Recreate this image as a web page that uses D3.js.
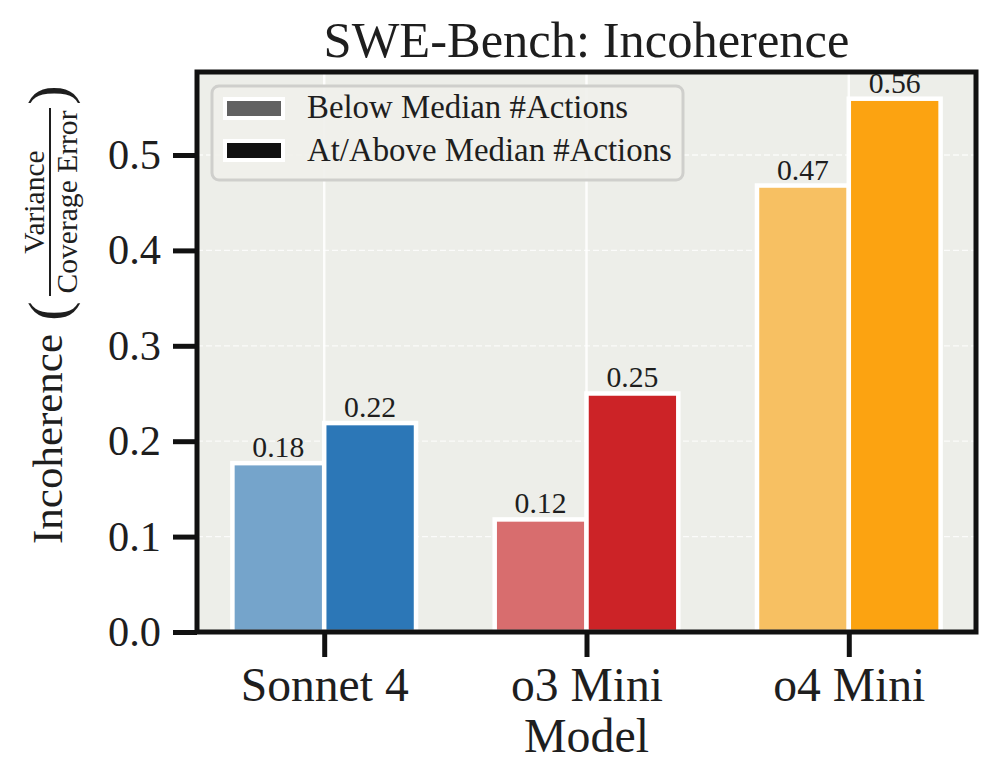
<!DOCTYPE html>
<html>
<head>
<meta charset="utf-8">
<script src="https://cdn.jsdelivr.net/npm/d3@7"></script>
<style>
body { margin: 0; background: #fff; }
text { font-family: "Liberation Serif", serif; fill: #1e1e1e; }
</style>
</head>
<body>
<div class="chart"></div>
<script>
var models = ["Sonnet 4", "o3 Mini", "o4 Mini"];
var below = [0.177, 0.118, 0.468];
var above = [0.219, 0.250, 0.559];
var belowColors = ["#75a4cb", "#d86d6e", "#f7c062"];
var aboveColors = ["#2c77b7", "#cc2327", "#fca311"];
var yTicks = [0.0, 0.1, 0.2, 0.3, 0.4, 0.5];
var legendLabels = ["Below Median #Actions", "At/Above Median #Actions"];
var legendColors = ["#616161", "#111111"];

var svgWidth = 997;
var svgHeight = 784;
var margin = { top: 72, right: 21, bottom: 152, left: 197 };
var width = svgWidth - margin.left - margin.right;
var height = svgHeight - margin.top - margin.bottom;

var svg = d3.select(".chart")
    .append("svg")
    .attr("width", svgWidth)
    .attr("height", svgHeight);

// scale a text's font size so that its width matches the reference
function fit(sel, target) {
    var fs = parseFloat(sel.attr("font-size"));
    var w = sel.node().getComputedTextLength();
    var size = fs * target / w;
    sel.attr("font-size", size);
    return size;
}

var chartGroup = svg.append("g")
    .attr("transform", `translate(${margin.left}, ${margin.top})`);

var barW = 0.35;
var xScale = d3.scaleLinear()
    .domain([-0.485, 2.485])
    .range([0, width]);

var yScale = d3.scaleLinear()
    .domain([0, 0.587])
    .range([height, 0]);

chartGroup.append("rect")
    .attr("width", width)
    .attr("height", height)
    .attr("fill", "#edeee9");

// grid
chartGroup.selectAll(".hgrid")
    .data(yTicks.slice(1))
    .enter()
    .append("line")
    .attr("x1", 0).attr("x2", width)
    .attr("y1", d => yScale(d)).attr("y2", d => yScale(d))
    .attr("stroke", "#ffffff")
    .attr("stroke-opacity", 0.75)
    .attr("stroke-width", 1.3)
    .attr("stroke-dasharray", "6,3");

chartGroup.selectAll(".vgrid")
    .data(models)
    .enter()
    .append("line")
    .attr("x1", (d, i) => xScale(i)).attr("x2", (d, i) => xScale(i))
    .attr("y1", 0).attr("y2", height)
    .attr("stroke", "#ffffff")
    .attr("stroke-opacity", 0.85)
    .attr("stroke-width", 2.5);

// bars
var bars = [];
models.forEach(function(m, i) {
    bars.push({ x0: i - barW, v: below[i], c: belowColors[i] });
    bars.push({ x0: i, v: above[i], c: aboveColors[i] });
});

chartGroup.selectAll(".bar")
    .data(bars)
    .enter()
    .append("rect")
    .attr("x", d => xScale(d.x0))
    .attr("y", d => yScale(d.v))
    .attr("width", xScale(barW) - xScale(0))
    .attr("height", d => height - yScale(d.v))
    .attr("fill", d => d.c)
    .attr("stroke", "#ffffff")
    .attr("stroke-width", 4.5);

var vlabels = chartGroup.selectAll(".vlabel")
    .data(bars)
    .enter()
    .append("text")
    .attr("x", d => xScale(d.x0 + barW / 2))
    .attr("y", d => yScale(d.v) - 6)
    .attr("text-anchor", "middle")
    .attr("font-size", 24)
    .text(d => d.v.toFixed(2));
var vs = fit(d3.select(vlabels.nodes()[0]), 52);
vlabels.attr("font-size", vs);

// axes
var bottomAxis = d3.axisBottom(xScale)
    .tickValues([0, 1, 2])
    .tickFormat(d => models[d])
    .tickSize(25)
    .tickPadding(10);
var leftAxis = d3.axisLeft(yScale)
    .tickValues(yTicks)
    .tickFormat(d3.format(".1f"))
    .tickSize(24)
    .tickPadding(12);

var gx = chartGroup.append("g")
    .attr("transform", `translate(0, ${height})`)
    .call(bottomAxis);
gx.select(".domain").remove();
gx.selectAll("line").attr("stroke", "#111").attr("stroke-width", 5);
var xt = gx.selectAll("text").attr("font-size", 30).attr("fill", "#111")
    .style("font-family", "'Liberation Serif', serif");
var xs = fit(d3.select(xt.nodes()[0]), 168);
xt.attr("font-size", xs);

var gy = chartGroup.append("g").call(leftAxis);
gy.select(".domain").remove();
gy.selectAll("line").attr("stroke", "#111").attr("stroke-width", 5);
var yt = gy.selectAll("text").attr("font-size", 30).attr("fill", "#111")
    .style("font-family", "'Liberation Serif', serif");
var ys = fit(d3.select(yt.nodes()[5]), 53);
yt.attr("font-size", ys);

chartGroup.append("rect")
    .attr("width", width)
    .attr("height", height)
    .attr("fill", "none")
    .attr("stroke", "#111")
    .attr("stroke-width", 5);

// legend
var legend = chartGroup.append("g")
    .attr("transform", "translate(15, 14)");
legend.append("rect")
    .attr("width", 471)
    .attr("height", 94)
    .attr("rx", 7)
    .attr("fill", "#eff0eb")
    .attr("fill-opacity", 0.9)
    .attr("stroke", "#cfcfcc")
    .attr("stroke-width", 3);
var ltexts = [];
legendLabels.forEach(function(lbl, k) {
    legend.append("rect")
        .attr("x", 13).attr("y", 13 + k * 42)
        .attr("width", 58).attr("height", 19)
        .attr("fill", legendColors[k])
        .attr("stroke", "#fff")
        .attr("stroke-width", 4);
    ltexts.push(legend.append("text")
        .attr("x", 95)
        .attr("y", 32 + k * 43)
        .attr("font-size", 24)
        .text(lbl));
});
var ls = fit(ltexts[1], 365);
ltexts[0].attr("font-size", ls);

// title
var title = svg.append("text")
    .attr("x", margin.left + width / 2)
    .attr("y", 57)
    .attr("text-anchor", "middle")
    .attr("font-size", 40)
    .text("SWE-Bench: Incoherence");
fit(title, 526);

// x label
var xl = svg.append("text")
    .attr("x", margin.left + width / 2)
    .attr("y", 752)
    .attr("text-anchor", "middle")
    .attr("font-size", 40)
    .text("Model");
fit(xl, 125);

// y label with fraction
var yl = svg.append("g")
    .attr("transform", "translate(62, 439) rotate(-90)");
var inc = yl.append("text")
    .attr("x", 0).attr("y", 0)
    .attr("text-anchor", "middle")
    .attr("font-size", 40)
    .text("Incoherence");
fit(inc, 210);
yl.append("text")
    .attr("x", 128).attr("y", 6)
    .attr("text-anchor", "middle")
    .attr("font-size", 58)
    .text("(");
var cov = yl.append("text")
    .attr("x", 237).attr("y", 15)
    .attr("text-anchor", "middle")
    .attr("font-size", 26)
    .text("Coverage Error");
var fs = fit(cov, 183);
yl.append("text")
    .attr("x", 237).attr("y", -18)
    .attr("text-anchor", "middle")
    .attr("font-size", fs)
    .text("Variance");
yl.append("line")
    .attr("x1", 143).attr("x2", 331)
    .attr("y1", -12).attr("y2", -12)
    .attr("stroke", "#1e1e1e").attr("stroke-width", 2);
yl.append("text")
    .attr("x", 344).attr("y", 6)
    .attr("text-anchor", "middle")
    .attr("font-size", 58)
    .text(")");
</script>
</body>
</html>
